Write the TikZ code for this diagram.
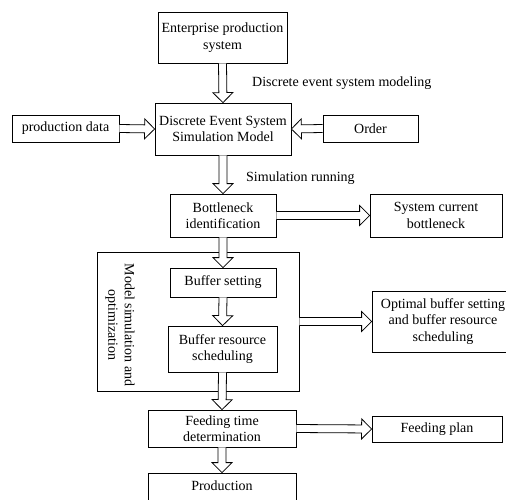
\documentclass[tikz,border=0pt]{standalone}
\usepackage{fontspec}
\setmainfont{Liberation Serif}
\usetikzlibrary{calc}
\tikzset{
  box/.style={draw,line width=0.8pt,inner sep=1pt,align=center,font=\fontsize{14}{16.5}\selectfont},
  lbl/.style={inner sep=0pt,anchor=west,font=\fontsize{14}{16.5}\selectfont},
  blk/.style={draw,line width=0.8pt,fill=white,line join=miter}
}
% hollow block arrow from #1 to #2
\newcommand{\blockarrow}[2]{%
  \coordinate (s) at (#1); \coordinate (e) at (#2);
  \coordinate (h) at ($(e)!10pt!(s)$);
  \draw[blk] ($(s)!4pt!90:(e)$) -- ($(h)!4pt!-90:(s)$) -- ($(h)!10pt!-90:(s)$) -- (e)
    -- ($(h)!10pt!90:(s)$) -- ($(h)!4pt!90:(s)$) -- ($(s)!4pt!-90:(e)$);
}
\begin{document}
\begin{tikzpicture}[x=1pt,y=-1pt]
      \useasboundingbox (0,0) rectangle (506,499);
      \clip (0,0) rectangle (506,499);

      \node[box,minimum width=129pt,minimum height=51pt] (ent) at (222.5,37.5) {Enterprise production\\system};
      \node[box,minimum width=136pt,minimum height=52pt] (des) at (223,129) {Discrete Event System\\Simulation Model};
      \node[box,minimum width=107pt,minimum height=27pt] (pdata) at (65.5,128.5) {production data};
      \node[box,minimum width=95pt,minimum height=27pt] (order) at (370.5,128.5) {Order};
      \node[box,minimum width=106pt,minimum height=43pt] (bneck) at (223,215.5) {Bottleneck\\identification};
      \node[box,minimum width=132pt,minimum height=43pt] (cur) at (436,215.5) {System current\\bottleneck};
      \node[box,minimum width=202pt,minimum height=139pt] (mso) at (198,321.5) {};
      \node[lbl,anchor=center,align=center,rotate=-90] (msolbl) at (120,325) {Model simulation and\\optimization};
      \node[box,minimum width=106pt,minimum height=29pt] (bset) at (223,282.5) {Buffer setting};
      \node[box,minimum width=109pt,minimum height=46pt] (bres) at (222.5,349) {Buffer resource\\scheduling};
      \node[box,minimum width=142pt,minimum height=61pt] (optimal) at (443,321.5) {Optimal buffer setting\\and buffer resource\\scheduling};
      \node[box,minimum width=148pt,minimum height=37pt] (feed) at (222,428.5) {Feeding time\\determination};
      \node[box,minimum width=130pt,minimum height=26pt] (fplan) at (437,429) {Feeding plan};
      \node[box,minimum width=148pt,minimum height=40pt,text depth=14pt] (prod) at (222,493) {Production};

      \node[lbl] (modl) at (252,83) {Discrete event system modeling};
      \node[lbl] (runl) at (246,178) {Simulation running};

      \blockarrow{ent.south}{des.north}
      \blockarrow{pdata.east}{des.west}
      \blockarrow{order.west}{des.east}
      \blockarrow{des.south}{bneck.north}
      \blockarrow{bneck.east}{cur.west}
      \blockarrow{bneck.south}{bset.north}
      \blockarrow{bset.south}{bres.north}
      \blockarrow{mso.east|-optimal.west}{optimal.west}
      \blockarrow{bres.south}{feed.north}
      \blockarrow{feed.east}{fplan.west}
      \blockarrow{feed.south}{prod.north}
\end{tikzpicture}
\end{document}
